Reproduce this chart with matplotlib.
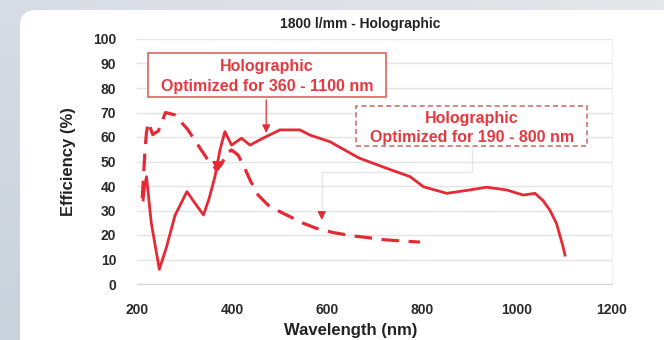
import numpy as np
import matplotlib.pyplot as plt
from matplotlib.patches import FancyBboxPatch, Rectangle

# solid curve: optimized for 360 - 1100 nm
wl_solid = [213, 216, 220, 230, 247, 262, 280, 305, 322, 340, 352, 364, 375, 385,
            399, 420, 438, 469, 501, 543, 564, 606, 662, 669, 726, 775, 803, 852,
            901, 936, 978, 1013, 1038, 1055, 1069, 1083, 1097, 1101]
eff_solid = [34.3, 40, 43.8, 25, 6.0, 15, 28, 37.7, 33, 28.2, 35, 43.8, 55, 62.2,
             56.7, 59.5, 56.7, 59.9, 62.9, 62.9, 60.8, 58.1, 52, 51.3, 47.2, 43.8, 39.7, 37,
             38.4, 39.5, 38.4, 36.3, 37, 34, 30.2, 24.8, 15.2, 11.8]

# dashed curve: optimized for 190 - 800 nm
wl_dash = [211, 214, 217, 220, 224, 233, 245, 260, 280, 307, 326, 347, 360, 368,
           378, 389, 399, 413, 427, 438, 455, 476, 501, 522, 550, 578, 613, 655,
           684, 712, 747, 796]
eff_dash = [35, 45, 55, 62, 66, 61, 62.5, 70, 69, 63, 57.4, 51.3, 48.5, 46.5,
            49, 53.3, 54.7, 52.6, 47.2, 42.4, 36.3, 32.2, 29.5, 27.5, 24.8, 22.7, 21, 19.6,
            19, 18.2, 17.7, 17.1]

x_ticks = [200, 400, 600, 800, 1000, 1200]
y_ticks = list(range(0, 101, 10))

red = '#e52a35'
txt_red = '#e5393f'
font = 'Liberation Sans'

fig = plt.figure(figsize=(6.64, 3.4), dpi=100)

# page background with soft gradient
bg = fig.add_axes([0, 0, 1, 1], zorder=-10)
grad = np.linspace(0, 1, 200)
g = np.outer(np.linspace(0.0, 1.0, 100), np.ones(200)) * 0.5 + np.outer(np.ones(100), 1 - grad) * 0.5
bg.imshow(g, cmap=plt.matplotlib.colors.LinearSegmentedColormap.from_list('bgc', ['#e4e7ec', '#c9d2dc']),
          extent=[0, 664, 0, 340], aspect='auto', origin='upper')
bg.add_patch(FancyBboxPatch((20, -40), 700, 370, boxstyle='round,pad=0,rounding_size=16',
                            fc='white', ec='none'))
bg.set_xlim(0, 664)
bg.set_ylim(0, 340)
bg.axis('off')

ax = fig.add_axes([137 / 664, 1 - 284 / 340, 475 / 664, 245 / 340])
ax.set_facecolor('none')
ax.set_xlim(200, 1200)
ax.set_ylim(0, 100)
ax.set_xticks(x_ticks)
ax.set_yticks(y_ticks)
ax.set_xticklabels([str(v) for v in x_ticks], fontfamily=font, fontweight='bold', fontsize=10, color='#2a2a2a')
ax.set_yticklabels([str(v) for v in y_ticks], fontfamily=font, fontweight='bold', fontsize=10, color='#2a2a2a')
ax.tick_params(length=0, pad=14)
ax.tick_params(axis='y', pad=15)
ax.grid(axis='y', color='#e4e4e4', lw=1)
for s in ['top', 'left']:
    ax.spines[s].set_visible(False)
ax.spines['bottom'].set_color('#d4d4d4')
ax.spines['right'].set_color('#eeeeee')

ax.plot(wl_solid, eff_solid, color=red, lw=2, solid_joinstyle='round', zorder=4)
ax.plot(wl_dash, eff_dash, color=red, lw=2.3, dashes=(5.5, 3), zorder=4)

ax.set_title('1800 l/mm - Holographic', fontfamily=font, fontweight='bold', fontsize=10,
             color='#222222', pad=8, x=0.47)
ax.set_xlabel('Wavelength (nm)', fontfamily=font, fontweight='bold', fontsize=12,
              color='#222222', labelpad=4, x=0.45)
ax.set_ylabel('Efficiency (%)', fontfamily=font, fontweight='bold', fontsize=12,
              color='#222222', labelpad=12)

# solid-line callout
ax.add_patch(Rectangle((223, 76.3), 501, 18, fill=True, fc='white', ec='#e06060', lw=1.2, zorder=5))
ax.text(474, 88.6, 'Holographic', ha='center', va='center', fontfamily=font,
        fontweight='bold', fontsize=11.5, color=txt_red, zorder=6)
ax.text(474, 80.6, 'Optimized for 360 - 1100 nm', ha='center', va='center', fontfamily=font,
        fontweight='bold', fontsize=11.5, color=txt_red, zorder=6)
ax.annotate('', xy=(472, 60.5), xytext=(472, 76.3),
            arrowprops=dict(arrowstyle='-|>', color=red, lw=0.9, mutation_scale=12), zorder=6)
ax.annotate('', xy=(368, 45), xytext=(368, 51),
            arrowprops=dict(arrowstyle='-|>', color=red, lw=1.5, mutation_scale=12), zorder=6)

# dashed-line callout
ax.add_patch(Rectangle((661, 56.3), 486, 16.4, fill=True, fc='white', ec='#d07070', lw=1.2,
                       ls=(0, (3, 2)), zorder=5))
ax.text(905, 67.6, 'Holographic', ha='center', va='center', fontfamily=font,
        fontweight='bold', fontsize=11.5, color=txt_red, zorder=6)
ax.text(905, 59.6, 'Optimized for 190 - 800 nm', ha='center', va='center', fontfamily=font,
        fontweight='bold', fontsize=11.5, color=txt_red, zorder=6)
ax.plot([905, 905, 589, 589], [56.3, 45.8, 45.8, 30], color='#e6e6e6', lw=1, zorder=3)
ax.annotate('', xy=(589, 25), xytext=(589, 30),
            arrowprops=dict(arrowstyle='-|>', color=red, lw=1, mutation_scale=12), zorder=6)

fig.savefig('out.png', dpi=100)
